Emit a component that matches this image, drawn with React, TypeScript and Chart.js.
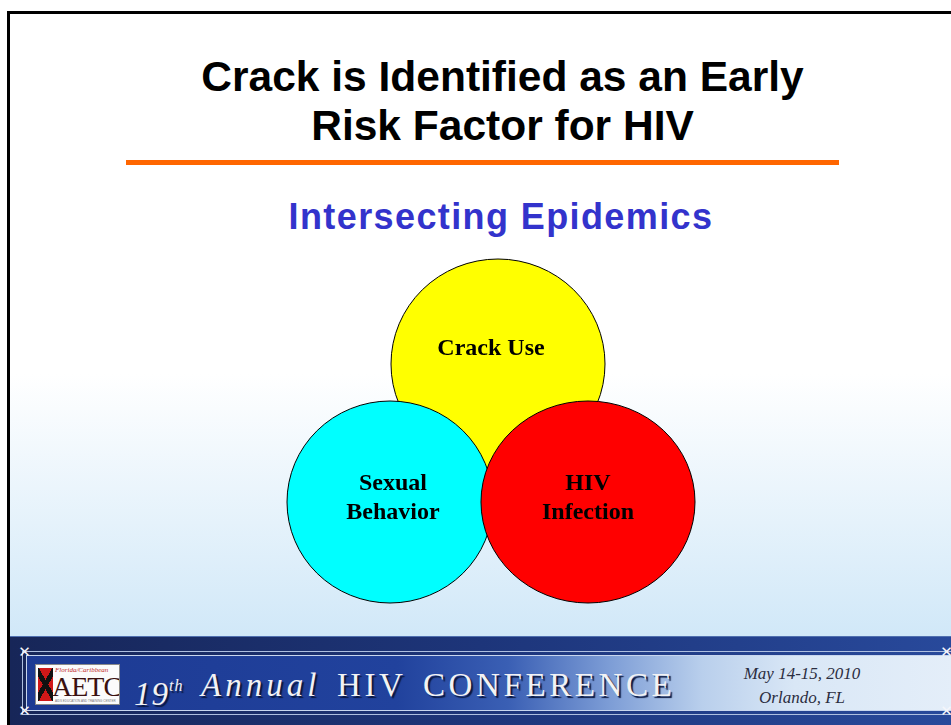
import React, { useEffect, useRef } from "react";
import { Chart, registerables } from "chart.js";

Chart.register(...registerables);

// ---- Data (abstract diagram units) ----
const circleNames = ["Crack Use", "Sexual Behavior", "HIV Infection"];
const labelLines = [["Crack Use"], ["Sexual", "Behavior"], ["HIV", "Infection"]];
const centerX = [2.18, 1.1, 3.08];
const centerY = [2.56, 1.18, 1.18];
const radiusX = [1.07, 1.03, 1.07];
const radiusY = [1.05, 1.01, 1.01];

// ---- Styles ----
const fillColors = ["#FFFF00", "#00FFFF", "#FF0000"];
const labelOffsetX = [-7, 3, 0];
const labelOffsetY = [-9, -12, -12];
const labelLineGap = 29;

// Ellipses drawn at the dataset points, with radii taken from the chart's scales.
const ellipsePlugin = {
  id: "vennEllipses",
  beforeDatasetsDraw(chart: any) {
    const ctx = chart.ctx;
    const xs = chart.scales.x;
    const ys = chart.scales.y;
    ctx.save();
    circleNames.forEach((_, i) => {
      const cx = xs.getPixelForValue(centerX[i]);
      const cy = ys.getPixelForValue(centerY[i]);
      const rx = Math.abs(xs.getPixelForValue(centerX[i] + radiusX[i]) - cx);
      const ry = Math.abs(ys.getPixelForValue(centerY[i] + radiusY[i]) - cy);
      ctx.beginPath();
      ctx.ellipse(cx, cy, rx, ry, 0, 0, Math.PI * 2);
      ctx.fillStyle = fillColors[i];
      ctx.fill();
      ctx.lineWidth = 1;
      ctx.strokeStyle = "#000000";
      ctx.stroke();
    });
    ctx.restore();
  },
};

const labelPlugin = {
  id: "vennLabels",
  afterDatasetsDraw(chart: any) {
    const ctx = chart.ctx;
    const xs = chart.scales.x;
    const ys = chart.scales.y;
    ctx.save();
    ctx.font = "bold 24px 'Liberation Serif', 'Times New Roman', serif";
    ctx.fillStyle = "#000";
    ctx.textAlign = "center";
    ctx.textBaseline = "alphabetic";
    labelLines.forEach((lines, i) => {
      const px = xs.getPixelForValue(centerX[i]) + labelOffsetX[i];
      const py = ys.getPixelForValue(centerY[i]) + labelOffsetY[i];
      lines.forEach((t, k) => ctx.fillText(t, px, py + k * labelLineGap));
    });
    ctx.restore();
  },
};

function VennChart() {
  const ref = useRef<HTMLCanvasElement | null>(null);
  useEffect(() => {
    if (!ref.current) return;
    const chart = new Chart(ref.current, {
      type: "scatter",
      data: {
        datasets: circleNames.map((name, i) => ({
          label: name,
          data: [{ x: centerX[i], y: centerY[i] }],
          pointRadius: 0,
          pointHoverRadius: 0,
          backgroundColor: fillColors[i],
        })),
      },
      options: {
        responsive: false,
        animation: false,
        events: [],
        layout: { padding: { left: 280, right: 251, top: 250, bottom: 105 } },
        scales: {
          x: { type: "linear", min: 0, max: 4.2, display: false },
          y: { type: "linear", min: 0, max: 3.7, display: false },
        },
        plugins: {
          legend: { display: false },
          tooltip: { enabled: false },
        },
      },
      plugins: [ellipsePlugin, labelPlugin],
    });
    return () => chart.destroy();
  }, []);
  return (
    <canvas
      ref={ref}
      width={951}
      height={725}
      style={{ position: "absolute", left: 0, top: 0, width: 951, height: 725 }}
    />
  );
}

const ornament: React.CSSProperties = {
  position: "absolute",
  color: "#f4f6fb",
  fontSize: 15,
  lineHeight: "15px",
  width: 15,
  height: 15,
  textAlign: "center",
  fontFamily: "'DejaVu Sans', sans-serif",
  fontWeight: "bold",
};

const bannerText: React.CSSProperties = {
  position: "absolute",
  top: 32,
  fontFamily: "'Liberation Serif', 'Times New Roman', serif",
  fontSize: 33,
  lineHeight: "33px",
  color: "#f2f2f4",
  letterSpacing: 3.6,
  whiteSpace: "nowrap",
  textShadow: "2px 2px 1px #0b1840",
};

export default function App() {
  return (
    <div
      style={{
        position: "absolute",
        left: 0,
        top: 0,
        width: 951,
        height: 725,
        overflow: "hidden",
        background: "#ffffff",
        fontFamily: "'Liberation Sans', Arial, sans-serif",
      }}
    >
      {/* slide body */}
      <div
        style={{
          position: "absolute",
          left: 7,
          top: 11,
          width: 960,
          height: 730,
          borderLeft: "3px solid #000",
          borderTop: "3px solid #000",
          background: "linear-gradient(to bottom, #ffffff 0px, #ffffff 360px, #d1e8f8 622px)",
        }}
      />
      {/* title */}
      <div
        style={{
          position: "absolute",
          left: 0,
          top: 52,
          width: 1005,
          textAlign: "center",
          fontWeight: "bold",
          fontSize: 42.5,
          lineHeight: "49px",
          color: "#000",
        }}
      >
        Crack is Identified as an Early
        <br />
        Risk Factor for HIV
      </div>
      <div style={{ position: "absolute", left: 126, top: 160, width: 713, height: 5, background: "#FF6600" }} />
      <div
        style={{
          position: "absolute",
          left: 0,
          top: 196,
          width: 1002,
          textAlign: "center",
          fontWeight: "bold",
          fontSize: 36,
          lineHeight: "42px",
          letterSpacing: 1.4,
          color: "#3333CC",
        }}
      >
        Intersecting Epidemics
      </div>

      <VennChart />

      {/* footer banner */}
      <div
        style={{
          position: "absolute",
          left: 10,
          top: 636,
          width: 941,
          height: 89,
          background: "linear-gradient(to right, #172658 0%, #1d357a 50%, #28499b 100%)",
          borderTop: "1px solid #5070b0",
          boxSizing: "border-box",
        }}
      >
        <div
          style={{
            position: "absolute",
            left: 12,
            top: 14,
            width: 935,
            height: 64,
            border: "1px solid #aebfe0",
            boxSizing: "border-box",
          }}
        />
        <div
          style={{
            position: "absolute",
            left: 16,
            top: 18,
            width: 927,
            height: 56,
            border: "1px solid #c8d6ee",
            boxSizing: "border-box",
            background:
              "linear-gradient(to right, #1d3a93 0%, #21429d 40%, #3a5fb4 52%, #7d9dd6 63%, #b9cfec 73%, #d9e7f6 83%, #e4eef9 100%)",
          }}
        />
        <div style={{ ...ornament, left: 7, top: 8 }}>✕</div>
        <div style={{ ...ornament, left: 7, top: 67 }}>✕</div>
        <div style={{ ...ornament, left: 929, top: 8 }}>✕</div>
        <div style={{ ...ornament, left: 929, top: 67 }}>✕</div>

        {/* logo */}
        <div
          style={{
            position: "absolute",
            left: 25,
            top: 27,
            width: 85,
            height: 41,
            background: "#fbfbfb",
            border: "1px solid #8a8a8a",
            boxSizing: "border-box",
            overflow: "hidden",
          }}
        >
          <div
            style={{
              position: "absolute",
              left: 2,
              top: 3,
              width: 15,
              height: 33,
              background:
                "linear-gradient(60deg, transparent 42%, #111 42%, #111 58%, transparent 58%), linear-gradient(-60deg, transparent 42%, #111 42%, #111 58%, transparent 58%), #d01818",
            }}
          />
          <div
            style={{
              position: "absolute",
              left: 19,
              top: 1,
              fontFamily: "'Liberation Serif', serif",
              fontStyle: "italic",
              fontSize: 7,
              lineHeight: "8px",
              color: "#c22a2a",
              whiteSpace: "nowrap",
            }}
          >
            Florida/Caribbean
          </div>
          <div
            style={{
              position: "absolute",
              left: 16,
              top: 8,
              fontFamily: "'Liberation Serif', serif",
              fontSize: 28,
              lineHeight: "28px",
              color: "#3a1010",
              whiteSpace: "nowrap",
              letterSpacing: -1,
            }}
          >
            AETC
          </div>
          <div
            style={{
              position: "absolute",
              left: 19,
              top: 34,
              fontFamily: "'Liberation Sans', sans-serif",
              fontSize: 3,
              lineHeight: "4px",
              color: "#777",
              whiteSpace: "nowrap",
            }}
          >
            AIDS EDUCATION AND TRAINING CENTER
          </div>
        </div>

        {/* banner title */}
        <div style={{ ...bannerText, left: 124, fontStyle: "italic", letterSpacing: 1 }}>
          19<span style={{ fontSize: 16, verticalAlign: 14, letterSpacing: 1 }}>th</span>
        </div>
        <div style={{ ...bannerText, left: 191, fontStyle: "italic", letterSpacing: 4 }}>Annual</div>
        <div style={{ ...bannerText, left: 327 }}>HIV</div>
        <div style={{ ...bannerText, left: 413 }}>CONFERENCE</div>

        {/* date / place */}
        <div
          style={{
            position: "absolute",
            left: 692,
            top: 25,
            width: 200,
            textAlign: "center",
            fontFamily: "'Liberation Serif', 'Times New Roman', serif",
            fontStyle: "italic",
            fontSize: 17,
            lineHeight: "24px",
            color: "#2b2d40",
          }}
        >
          May 14-15, 2010
          <br />
          Orlando, FL
        </div>
      </div>
    </div>
  );
}
